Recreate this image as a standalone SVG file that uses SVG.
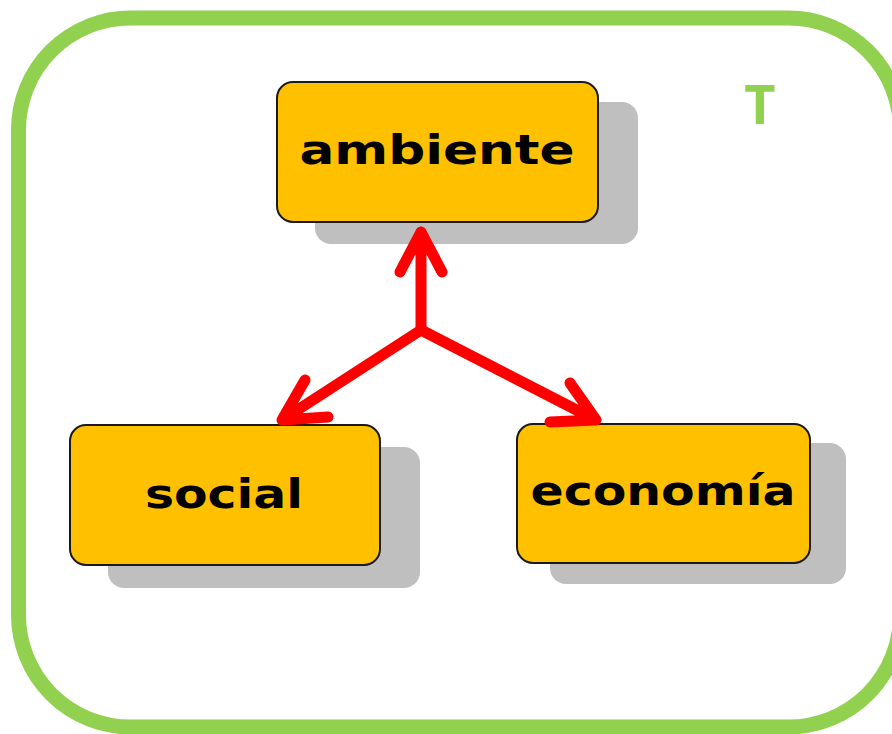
<svg xmlns="http://www.w3.org/2000/svg" width="892" height="734" viewBox="0 0 892 734">
<style>
.frame{fill:#fff;stroke:#92d050;stroke-width:15}
.shadow{fill:#bfbfbf}
.box{fill:#ffc000;stroke:#1a1a1a;stroke-width:2}
.lbl{font-family:"DejaVu Sans",sans-serif;font-weight:bold;fill:#000;text-anchor:middle}
.arr{fill:none;stroke:#ff0000;stroke-width:11;stroke-linecap:round;stroke-linejoin:round}
</style>
<rect width="892" height="734" fill="#fff"/>
<rect class="frame" x="18.5" y="18" width="882" height="709" rx="112"/>
<text x="760" y="124" font-family="'Open Sans',sans-serif" font-weight="bold" font-size="54" fill="#92d050" text-anchor="middle">T</text>
<g id="ambiente">
<rect class="shadow" x="315" y="102" width="323" height="142" rx="16"/>
<rect class="box" x="277" y="82" width="321" height="140" rx="16"/>
<text class="lbl" x="437" y="164" font-size="40" textLength="275" lengthAdjust="spacingAndGlyphs">ambiente</text>
</g>
<g id="social">
<rect class="shadow" x="108" y="447" width="312" height="141" rx="16"/>
<rect class="box" x="70" y="425" width="310" height="140" rx="16"/>
<text class="lbl" x="224" y="508" font-size="40" textLength="158" lengthAdjust="spacingAndGlyphs">social</text>
</g>
<g id="economia">
<rect class="shadow" x="550" y="443" width="296" height="141" rx="16"/>
<rect class="box" x="517" y="424" width="293" height="139" rx="16"/>
<text class="lbl" x="663" y="505" font-size="40" textLength="265" lengthAdjust="spacingAndGlyphs">economía</text>
</g>
<g id="connectors">
<path class="arr" d="M421,330 L421,232 M400,272 L421,232 L442,272"/>
<path class="arr" d="M421,330 L282,420 M305,380 L282,420 L328,417"/>
<path class="arr" d="M421,330 L596,420 M570,383 L596,420 L550,422"/>
</g>
</svg>
